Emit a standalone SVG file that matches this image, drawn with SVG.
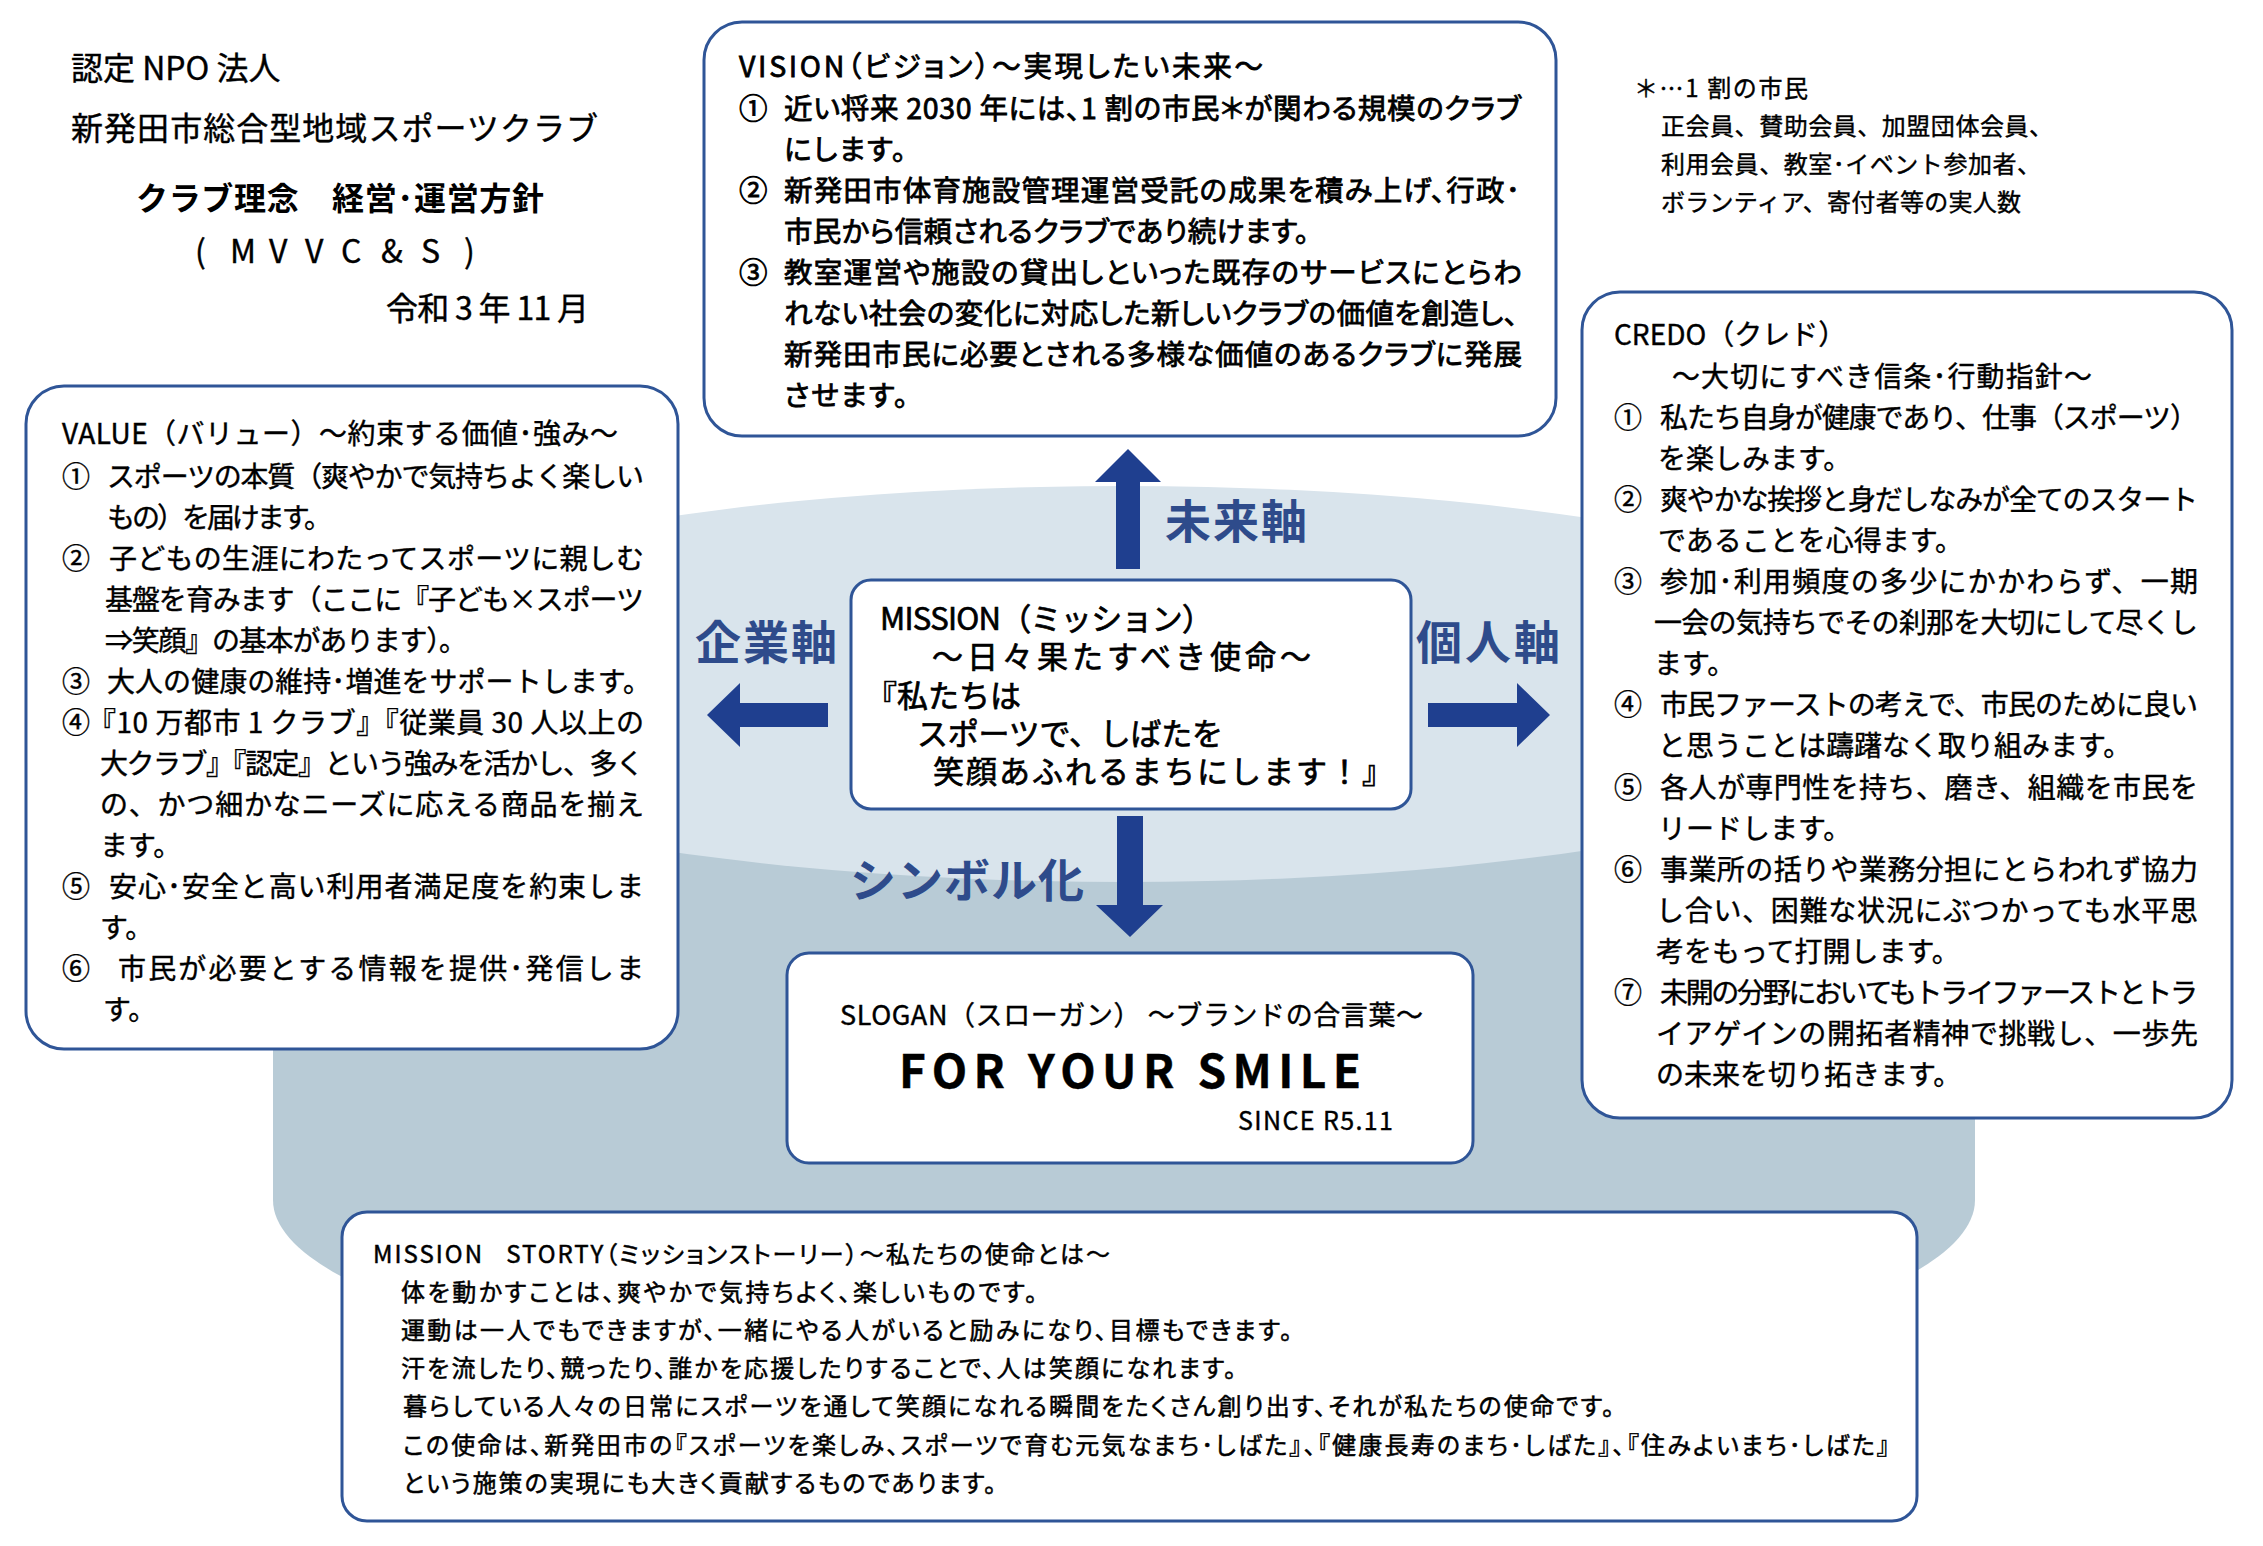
<svg xmlns="http://www.w3.org/2000/svg" width="2263" height="1546" viewBox="0 0 2263 1546">
<style>
.t{font-family:"Noto Sans CJK JP","Noto Sans",sans-serif;fill:#000;stroke:#000;stroke-width:0.4px}
.ti{font-size:32px}
.fn{font-size:24px}
.v{font-size:28.5px;font-feature-settings:"palt";stroke-width:0.8px}
.b{font-size:28px}
.m{font-size:31px;stroke-width:0.7px}
.s{font-size:24px;font-feature-settings:"palt";stroke-width:0.5px}
.box{fill:#fff;stroke:#2F5597;stroke-width:3}
.arr{fill:#1F3F8F}
.ax{font-family:"Noto Sans CJK JP","Noto Sans",sans-serif;font-weight:bold;font-size:46px;fill:#2E4B8B}
</style>
<rect width="2263" height="1546" fill="#fff"/>
<g id="background">
<path d="M273,684 L273,1200 A851,195 0 0 0 1975,1200 L1975,684 Z" fill="#B8CBD6"/>
<ellipse cx="1124" cy="684" rx="851" ry="198" fill="#D9E4EC"/>
</g>
<g id="title" class="t">
<text class="ti" x="71" y="80">認定 NPO 法人</text>
<text class="ti" x="71" y="140" textLength="527">新発田市総合型地域スポーツクラブ</text>
<text class="ti" x="136" y="210" font-weight="bold" stroke-width="0" textLength="408">クラブ理念　経営･運営方針</text>
<text class="ti" y="263" x="195 230 269 305 341 381 421 464">(MVVC&amp;S)</text>
<text class="ti" x="386" y="320" textLength="203">令和 3 年 11 月</text>
</g>
<g id="footnote" class="t fn">
<text x="1634" y="97" textLength="174">＊…1 割の市民</text>
<text x="1661" y="135" textLength="392">正会員、賛助会員、加盟団体会員、</text>
<text x="1661" y="173" textLength="380">利用会員、教室･イベント参加者、</text>
<text x="1661" y="211" textLength="360">ボランティア、寄付者等の実人数</text>
</g>
<g id="vision">
<rect class="box" x="704" y="22" width="852" height="414" rx="38"/>
<g class="t v">
<text x="739" y="77" textLength="524">VISION（ビジョン）～実現したい未来～</text>
<text x="739" y="118.5">①</text>
<text x="784" y="118.5" textLength="737">近い将来 2030 年には、1 割の市民＊が関わる規模のクラブ</text>
<text x="784" y="159.5" textLength="122">にします。</text>
<text x="739" y="200.5">②</text>
<text x="784" y="200.5" textLength="736">新発田市体育施設管理運営受託の成果を積み上げ、行政･</text>
<text x="784" y="241.5" textLength="525">市民から信頼されるクラブであり続けます。</text>
<text x="739" y="282.5">③</text>
<text x="784" y="282.5" textLength="738">教室運営や施設の貸出しといった既存のサービスにとらわ</text>
<text x="784" y="323.5" textLength="734">れない社会の変化に対応した新しいクラブの価値を創造し、</text>
<text x="784" y="364.5" textLength="738">新発田市民に必要とされる多様な価値のあるクラブに発展</text>
<text x="784" y="405.5" textLength="124">させます。</text>
</g>
</g>
<g id="value">
<rect class="box" x="26" y="386" width="652" height="663" rx="38"/>
<g class="t b">
<text x="62" y="444" textLength="556">VALUE（バリュー）～約束する価値･強み～</text>
<text x="62" y="487">①</text>
<text x="107" y="487" textLength="537">スポーツの本質（爽やかで気持ちよく楽しい</text>
<text x="107" y="528" textLength="225">もの）を届けます。</text>
<text x="62" y="569">②</text>
<text x="109" y="569" textLength="535">子どもの生涯にわたってスポーツに親しむ</text>
<text x="105" y="610" textLength="539">基盤を育みます（ここに『子ども×スポーツ</text>
<text x="105" y="651" textLength="362">⇒笑顔』の基本があります）。</text>
<text x="62" y="692">③</text>
<text x="107" y="692" textLength="544">大人の健康の維持･増進をサポートします。</text>
<text x="62" y="733">④</text>
<text x="88" y="733" textLength="556">『10 万都市 1 クラブ』『従業員 30 人以上の</text>
<text x="100" y="774" textLength="544">大クラブ』『認定』という強みを活かし、多く</text>
<text x="100" y="815" textLength="544">の、かつ細かなニーズに応える商品を揃え</text>
<text x="100" y="856">ます。</text>
<text x="62" y="897">⑤</text>
<text x="109" y="897" textLength="535">安心･安全と高い利用者満足度を約束しま</text>
<text x="100" y="938">す。</text>
<text x="62" y="979">⑥</text>
<text x="118" y="979" textLength="526">市民が必要とする情報を提供･発信しま</text>
<text x="103" y="1020">す。</text>
</g>
</g>
<g id="credo">
<rect class="box" x="1582" y="292" width="650" height="826" rx="38"/>
<g class="t b">
<text x="1614" y="345">CREDO（クレド）</text>
<text x="1672" y="387" textLength="420">～大切にすべき信条･行動指針～</text>
<text x="1614" y="427.6">①</text>
<text x="1660" y="427.6" textLength="538">私たち自身が健康であり、仕事（スポーツ）</text>
<text x="1658" y="468.7">を楽しみます。</text>
<text x="1614" y="509.8">②</text>
<text x="1660" y="509.8" textLength="538">爽やかな挨拶と身だしなみが全てのスタート</text>
<text x="1658" y="550.9">であることを心得ます。</text>
<text x="1614" y="592">③</text>
<text x="1660" y="592" textLength="538">参加･利用頻度の多少にかかわらず、一期</text>
<text x="1654" y="633.1" textLength="544">一会の気持ちでその刹那を大切にして尽くし</text>
<text x="1654" y="674.2">ます。</text>
<text x="1614" y="715.3">④</text>
<text x="1660" y="715.3" textLength="538">市民ファーストの考えで、市民のために良い</text>
<text x="1658" y="756.4" font-feature-settings="palt">と思うことは躊躇なく取り組みます。</text>
<text x="1614" y="797.5">⑤</text>
<text x="1660" y="797.5" textLength="538">各人が専門性を持ち、磨き、組織を市民を</text>
<text x="1658" y="838.6">リードします。</text>
<text x="1614" y="879.7">⑥</text>
<text x="1660" y="879.7" textLength="538">事業所の括りや業務分担にとらわれず協力</text>
<text x="1656" y="920.8" textLength="542">し合い、困難な状況にぶつかっても水平思</text>
<text x="1656" y="961.9">考をもって打開します。</text>
<text x="1614" y="1003">⑦</text>
<text x="1660" y="1003" textLength="538">未開の分野においてもトライファーストとトラ</text>
<text x="1656" y="1044.1" textLength="542">イアゲインの開拓者精神で挑戦し、一歩先</text>
<text x="1656" y="1085.2">の未来を切り拓きます。</text>
</g>
</g>
<g id="connectors">
<polygon class="arr" points="1128,449 1161,482 1140,482 1140,569 1116,569 1116,482 1095,482"/>
<polygon class="arr" points="707,715 740,683 740,703 828,703 828,727 740,727 740,747"/>
<polygon class="arr" points="1550,715 1517,683 1517,703 1428,703 1428,727 1517,727 1517,747"/>
<polygon class="arr" points="1130,937 1163,905 1143,905 1143,816 1117,816 1117,905 1096,905"/>
<text class="ax" x="1165" y="538" textLength="142">未来軸</text>
<text class="ax" x="695" y="659" textLength="142">企業軸</text>
<text class="ax" x="1416" y="659" textLength="144">個人軸</text>
<text class="ax" x="850" y="897" textLength="234">シンボル化</text>
</g>
<g id="mission">
<rect class="box" x="851" y="580" width="560" height="229" rx="20"/>
<g class="t m">
<text x="880" y="630" textLength="333">MISSION（ミッション）</text>
<text x="932" y="668" textLength="379">～日々果たすべき使命～</text>
<text x="866" y="707">『私たちは</text>
<text x="917" y="745" textLength="306">スポーツで、しばたを</text>
<text x="933" y="783" textLength="460">笑顔あふれるまちにします！』</text>
</g>
</g>
<g id="slogan">
<rect class="box" x="787" y="953" width="686" height="210" rx="22"/>
<text class="t" x="840" y="1025" font-size="27" textLength="583">SLOGAN（スローガン） ～ブランドの合言葉～</text>
<text class="t" x="899" y="1088" font-size="46" font-weight="bold" stroke-width="0" textLength="462">FOR YOUR SMILE</text>
<text class="t" x="1238" y="1130" font-size="25" textLength="155">SINCE R5.11</text>
</g>
<g id="mission-story">
<rect class="box" x="342" y="1212" width="1575" height="309" rx="25"/>
<g class="t s">
<text x="373" y="1263" textLength="737">MISSION&#160;&#160;&#160;STORTY（ミッションストーリー）～私たちの使命とは～</text>
<text x="401" y="1301" textLength="636">体を動かすことは、爽やかで気持ちよく、楽しいものです。</text>
<text x="401" y="1339" textLength="891">運動は一人でもできますが、一緒にやる人がいると励みになり、目標もできます。</text>
<text x="401" y="1377" textLength="835">汗を流したり、競ったり、誰かを応援したりすることで、人は笑顔になれます。</text>
<text x="403" y="1415" textLength="1211">暮らしている人々の日常にスポーツを通して笑顔になれる瞬間をたくさん創り出す、それが私たちの使命です。</text>
<text x="403" y="1454" textLength="1486">この使命は、新発田市の『スポーツを楽しみ、スポーツで育む元気なまち･しばた』、『健康長寿のまち･しばた』、『住みよいまち･しばた』</text>
<text x="403" y="1492" textLength="593">という施策の実現にも大きく貢献するものであります。</text>
</g>
</g>
</svg>
